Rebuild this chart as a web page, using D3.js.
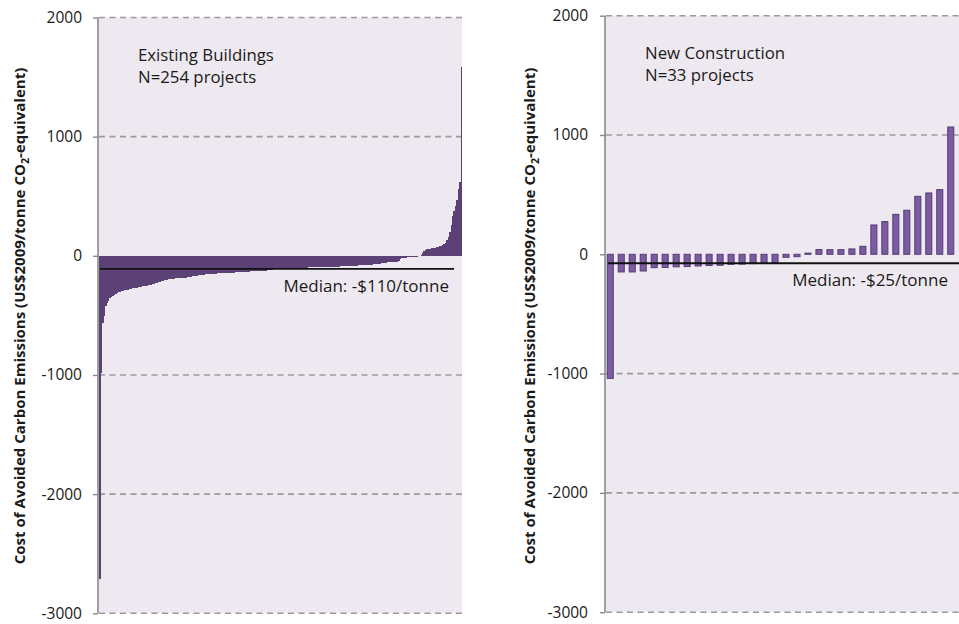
<!DOCTYPE html>
<html><head><meta charset="utf-8">
<script src="https://cdn.jsdelivr.net/npm/d3@7"></script>
<style>
body{margin:0;background:#fff}
svg{display:block}
text{font-family:"Open Sans",sans-serif;fill:#1a1a1a}
</style>
</head><body>
<svg id="chart" width="959" height="624"></svg>
<script>
// ---------- data ----------
const yTicks = [2000, 1000, 0, -1000, -2000, -3000];
const yTickLabels = ["2000", "1000", "0", "-1000", "-2000", "-3000"];
const yAxisTitle = "Cost of Avoided Carbon Emissions (US$2009/tonne CO";
const yAxisTitleSub = "2";
const yAxisTitleEnd = "-equivalent)";

const existingTitle = ["Existing Buildings", "N=254 projects"];
const existingMedianLabel = "Median: -$110/tonne";
const existingMedian = -110;
const existingValues = [
  -2710, -980, -560, -505, -420, -395, -380, -350, -345, -335,
  -325, -318, -310, -305, -300, -296, -292, -288, -286, -285,
  -283, -280, -277, -274, -271, -268, -266, -263, -261, -259,
  -257, -255, -252, -250, -248, -246, -244, -240, -235, -230,
  -227, -222, -218, -214, -210, -207, -204, -201, -198, -195,
  -193, -192, -191, -190, -189, -188, -187, -186, -186, -185,
  -183, -181, -179, -177, -175, -173, -171, -169, -167, -165,
  -163, -161, -159, -157, -156, -155, -154, -153, -152, -151,
  -150, -149, -148, -147, -146, -145, -144, -143, -143, -142,
  -142, -141, -141, -140, -140, -139, -138, -137, -136, -135,
  -134, -134, -133, -132, -132, -131, -130, -130, -129, -128,
  -128, -127, -127, -126, -126, -125, -124, -123, -121, -119,
  -117, -114, -112, -111, -110, -110, -110, -110, -108, -108,
  -107, -106, -106, -105, -105, -104, -103, -103, -102, -102,
  -101, -101, -100, -100, -99, -99, -98, -98, -97, -97,
  -96, -96, -95, -95, -95, -94, -94, -94, -93, -93,
  -93, -92, -92, -92, -91, -91, -90, -90, -89, -89,
  -88, -88, -87, -87, -86, -85, -85, -84, -83, -82,
  -82, -81, -80, -80, -79, -78, -77, -76, -75, -74,
  -73, -72, -71, -70, -69, -68, -66, -64, -62, -60,
  -58, -56, -55, -54, -53, -52, -51, -50, -48, -40,
  -30, -20, -17, -16, -15, -14, -13, -12, -11, -10,
  -9, -8, -6, -4, -2, 5, 20, 40, 50, 55,
  58, 60, 62, 64, 66, 68, 72, 76, 80, 85,
  90, 96, 110, 135, 160, 200, 260, 330, 380, 420,
  470, 560, 622, 1588
];

const newTitle = ["New Construction", "N=33 projects"];
const newMedianLabel = "Median: -$25/tonne";
const newMedianLine = -75;
const newValues = [
  -1040, -148, -148, -140, -112, -110, -105, -103, -98, -94,
  -92, -84, -82, -78, -76, -70, -25, -20, 10, 40,
  39, 39, 45, 67, 246, 274, 335, 369, 486, 514,
  542, 1067, 1300
];

// ---------- drawing ----------
const svg = d3.select("#chart");
const bgColor = "#EEE9F0";
const gridColor = "#9a9a9a";

const panels = [
  {
    values: existingValues, title: existingTitle, medianLabel: existingMedianLabel,
    medianValue: existingMedian,
    axisX: 98, right: 462, clipRight: 462, yTop: 17.5, yBottom: 613.3,
    bandRange: [98.6, 462], padInner: 0, padOuter: 0, overlap: 0.8,
    fill: "#5C4176", stroke: "none", strokeW: 0, crisp: true,
    titleX: 138, titleY: 61, titleTitleX: 25,
    medianX1: 100, medianX2: 454, medianTextX: 449, medianTextY: 292,
    tickPad: 16
  },
  {
    values: newValues, title: newTitle, medianLabel: newMedianLabel,
    medianValue: newMedianLine,
    axisX: 605, right: 959, clipRight: 958, yTop: 15.7, yBottom: 612.2,
    bandRange: [604.5, 967.5], padInner: 0.45, padOuter: 0.25, overlap: 0,
    fill: "#7B5CA0", stroke: "#553A78", strokeW: 1, crisp: false,
    titleX: 645, titleY: 59, titleTitleX: 535,
    medianX1: 608, medianX2: 959, medianTextX: 948, medianTextY: 286,
    tickPad: 17
  }
];

panels.forEach(p => {
  const g = svg.append("g");
  const y = d3.scaleLinear().domain([-3000, 2000]).range([p.yBottom, p.yTop]);
  const x = d3.scaleBand().domain(d3.range(p.values.length))
    .range(p.bandRange).paddingInner(p.padInner).paddingOuter(p.padOuter);

  // plot background
  g.append("rect").attr("x", p.axisX).attr("y", y(2000))
    .attr("width", p.right - p.axisX).attr("height", y(-3000) - y(2000))
    .attr("fill", bgColor);

  // dashed gridlines
  g.selectAll(".grid").data(yTicks.filter(t => t !== 0)).join("line")
    .attr("x1", p.axisX + 1).attr("x2", p.right)
    .attr("y1", d => y(d)).attr("y2", d => y(d))
    .attr("stroke", gridColor).attr("stroke-width", 1.6)
    .attr("stroke-dasharray", "6,4.5");

  // bars
  const clipId = "clip" + p.axisX;
  g.append("clipPath").attr("id", clipId).append("rect")
    .attr("x", p.axisX).attr("y", 0).attr("width", p.clipRight - p.axisX).attr("height", 624);
  g.append("g").attr("clip-path", `url(#${clipId})`)
    .attr("shape-rendering", p.crisp ? "crispEdges" : "auto")
    .selectAll("rect").data(p.values).join("rect")
    .attr("x", (d, i) => x(i))
    .attr("width", x.bandwidth() + p.overlap)
    .attr("y", d => Math.min(y(d), y(0)))
    .attr("height", d => Math.abs(y(d) - y(0)))
    .attr("fill", p.fill)
    .attr("stroke", p.stroke).attr("stroke-width", p.strokeW);

  // median line
  g.append("line").attr("x1", p.medianX1).attr("x2", p.medianX2)
    .attr("y1", y(p.medianValue)).attr("y2", y(p.medianValue))
    .attr("stroke", "#111").attr("stroke-width", 1.8);
  g.append("text").attr("x", p.medianTextX).attr("y", p.medianTextY)
    .attr("text-anchor", "end").attr("font-size", 17).text(p.medianLabel);

  // y axis
  const axis = d3.axisLeft(y).tickValues(yTicks)
    .tickFormat((d, i) => yTickLabels[i]).tickSize(5).tickPadding(p.tickPad - 5);
  const ag = g.append("g").attr("transform", `translate(${p.axisX},0)`).call(axis);
  ag.select(".domain").attr("stroke", "#8a8a8a").attr("stroke-width", 1.6)
    .attr("d", `M0,${y(2000)}V${y(-3000)}`);
  ag.selectAll(".tick line").attr("stroke", "#8a8a8a").attr("stroke-width", 1.4);
  ag.selectAll(".tick text").attr("font-family", "Open Sans, sans-serif")
    .attr("font-size", 15.5).attr("fill", "#1a1a1a");

  // panel title
  const t = g.append("text").attr("x", p.titleX).attr("y", p.titleY).attr("font-size", 16.8);
  p.title.forEach((line, i) => {
    t.append("tspan").attr("x", p.titleX).attr("dy", i === 0 ? 0 : 22).text(line);
  });

  // y axis title
  const yt = g.append("text")
    .attr("transform", `translate(${p.titleTitleX},316) rotate(-90)`)
    .attr("text-anchor", "middle").attr("font-size", 13).attr("font-weight", "bold");
  yt.append("tspan").text(yAxisTitle);
  yt.append("tspan").attr("class", "sub").attr("font-size", 9).attr("dy", 3).text(yAxisTitleSub);
  yt.append("tspan").attr("dy", -3).text(yAxisTitleEnd);
  const len = yt.node().getComputedTextLength();
  const fs = 13 * 497 / len;
  yt.attr("font-size", fs);
  yt.select(".sub").attr("font-size", fs * 0.7).attr("dy", fs * 0.25);
  yt.select("tspan:last-child").attr("dy", -fs * 0.25);
});
</script>
</body></html>
